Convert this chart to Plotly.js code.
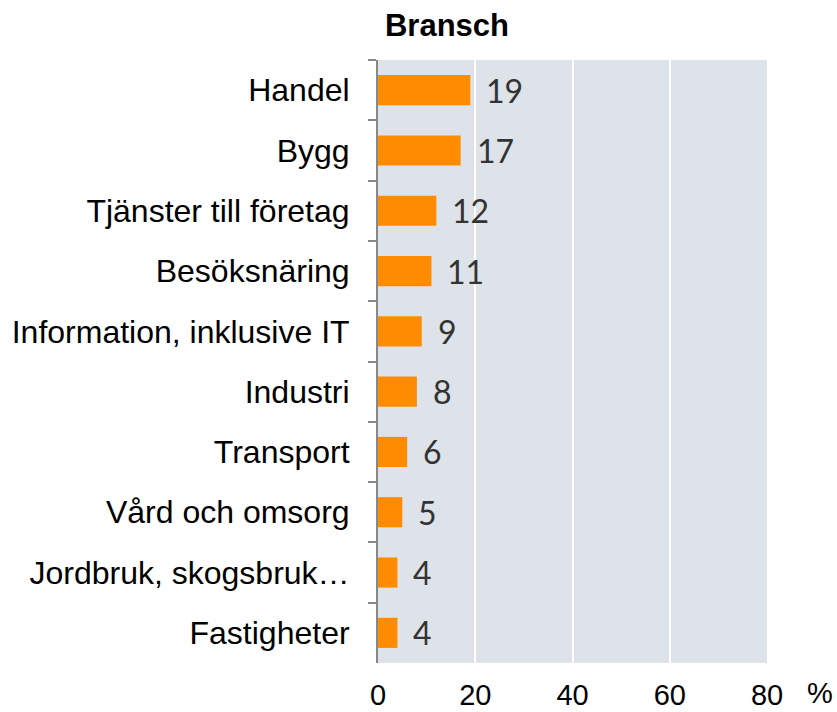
<!DOCTYPE html>
<html><head><meta charset="utf-8">
<script src="https://cdn.plot.ly/plotly-3.0.1.min.js"></script>
<style>body{margin:0;background:#fff}#chart{width:837px;height:712px}</style>
</head><body><div id="chart"></div>
<script>
const categories = ["Handel","Bygg","Tjänster till företag","Besöksnäring","Information, inklusive IT","Industri","Transport","Vård och omsorg","Jordbruk, skogsbruk…","Fastigheter"];
const values = [19,17,12,11,9,8,6,5,4,4];
const xTicks = [0,20,40,60,80];

const annotations = categories.map((c,i)=>({
  x: values[i], y: c, xref:'x', yref:'y', text: String(values[i]),
  showarrow:false, xanchor:'left', yanchor:'middle', xshift:14,
  font:{family:'Lato, "Open Sans", sans-serif', size:32, color:'#333333'}
}));
annotations.push({x:1, xref:'paper', y:0, yref:'paper', text:'%', showarrow:false,
  xanchor:'left', yanchor:'top', xshift:38, yshift:-12,
  font:{family:'"Liberation Sans", Arial, sans-serif', size:29, color:'#000'}});

Plotly.newPlot('chart',[{
  type:'bar', orientation:'h', x:values, y:categories,
  marker:{color:'#FF8C00'}, hoverinfo:'none'
}],{
  width:837, height:712,
  margin:{l:378, r:70, t:60, b:49, pad:0},
  paper_bgcolor:'#ffffff', plot_bgcolor:'#DDE3E9',
  bargap:0.5,
  showlegend:false,
  title:{text:'<b>Bransch</b>', x:447/837, xanchor:'center', xref:'container', y:1-25/712, yref:'container', yanchor:'middle',
    font:{family:'"Liberation Sans", Arial, sans-serif', size:31, color:'#000'}},
  xaxis:{range:[0,80], tickvals:xTicks, ticktext:xTicks.map(String), showgrid:true, gridcolor:'#ffffff', gridwidth:2,
    zeroline:false, showline:false, ticks:'', ticklabelstandoff:12,
    tickfont:{family:'"Liberation Sans", Arial, sans-serif', size:29, color:'#000'}, fixedrange:true},
  yaxis:{type:'category', autorange:'reversed', showgrid:false, zeroline:false,
    showline:true, linecolor:'#888888', linewidth:2,
    ticks:'outside', tickson:'boundaries', ticklen:8, tickwidth:2, tickcolor:'#888888',
    ticklabelstandoff:20,
    tickfont:{family:'"Liberation Sans", Arial, sans-serif', size:32, color:'#000'}},
  annotations: annotations
},{staticPlot:true});
</script></body></html>
